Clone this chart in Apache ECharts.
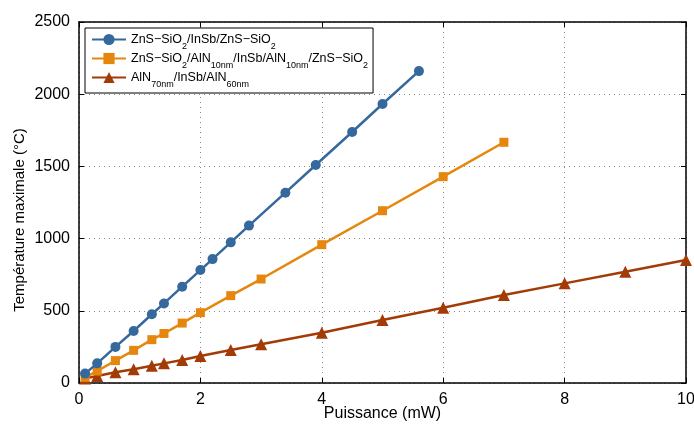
<!DOCTYPE html>
<html>
<head>
<meta charset="utf-8">
<script src="https://cdn.jsdelivr.net/npm/echarts@6/dist/echarts.min.js"></script>
<style>html,body{margin:0;padding:0;background:#fff;}#c{width:694px;height:425px;}</style>
</head>
<body>
<div id="c"></div>
<script>
// ---- data ----
var seriesNames = [
  'ZnS-SiO2/InSb/ZnS-SiO2',
  'ZnS-SiO2/AlN10nm/InSb/AlN10nm/ZnS-SiO2',
  'AlN70nm/InSb/AlN60nm'
];
var legendRich = [
  '{n|ZnS\u2212SiO}{s|2}{n|/InSb/ZnS\u2212SiO}{s|2}',
  '{n|ZnS\u2212SiO}{s|2}{n|/AlN}{s|10nm}{n|/InSb/AlN}{s|10nm}{n|/ZnS\u2212SiO}{s|2}',
  '{n|AlN}{s|70nm}{n|/InSb/AlN}{s|60nm}'
];
var blueX = [0.1, 0.3, 0.6, 0.9, 1.2, 1.4, 1.7, 2.0, 2.2, 2.5, 2.8, 3.4, 3.9, 4.5, 5.0, 5.6];
var blueY = [65, 136, 250, 360, 476, 551, 667, 782, 858, 974, 1090, 1318, 1510, 1738, 1932, 2160];
var orangeX = [0.1, 0.3, 0.6, 0.9, 1.2, 1.4, 1.7, 2.0, 2.5, 3.0, 4.0, 5.0, 6.0, 7.0];
var orangeY = [39, 83, 155, 226, 300, 343, 415, 487, 605, 720, 958, 1193, 1429, 1667];
var redX = [0.1, 0.3, 0.6, 0.9, 1.2, 1.4, 1.7, 2.0, 2.5, 3.0, 4.0, 5.0, 6.0, 7.0, 8.0, 9.0, 10.0];
var redY = [32, 48, 74, 95, 120, 136, 159, 187, 228, 268, 348, 436, 521, 609, 690, 771, 852];
var xTicks = {min: 0, max: 10, interval: 2};
var yTicks = {min: 0, max: 2500, interval: 500};
var xName = 'Puissance (mW)';
var yName = 'Température maximale (°C)';

function pairs(xs, ys) { return xs.map(function (x, i) { return [x, ys[i]]; }); }

var FONT = '"Liberation Sans", Arial, Helvetica, sans-serif';
var colors = ['#35689c', '#e5870e', '#a33b06'];
var symbols = ['circle', 'rect', 'triangle'];
var sizes = [10, 9, 12];
var datasets = [pairs(blueX, blueY), pairs(orangeX, orangeY), pairs(redX, redY)];

var chart = echarts.init(document.getElementById('c'), null, {renderer: 'canvas'});

var axisLineStyle = {color: '#000', width: 1.5};
var tickStyle = {show: true, inside: true, length: 5, lineStyle: {color: '#000', width: 1}};
var plain = function (v) { return String(v); };

var option = {
  backgroundColor: '#fff',
  animation: false,
  grid: {left: 79, right: 8, top: 22, bottom: 42, containLabel: false, outerBoundsMode: 'none'},
  legend: {
    data: seriesNames,
    orient: 'vertical',
    left: 85,
    top: 28,
    padding: [5, 5, 4, 6],
    itemGap: 1,
    itemWidth: 34,
    itemHeight: 14,
    backgroundColor: '#fff',
    borderColor: '#000',
    borderWidth: 1,
    borderRadius: 0,
    z: 10,
    formatter: function (name) { return legendRich[seriesNames.indexOf(name)]; },
    textStyle: {
      color: '#000',
      fontFamily: FONT,
      fontSize: 12.5,
      rich: {
        n: {fontFamily: FONT, fontSize: 12.5, color: '#000', lineHeight: 14},
        s: {fontFamily: FONT, fontSize: 9, color: '#000', lineHeight: 10, padding: [9, 0, -5, 0]}
      }
    }
  },
  xAxis: [{
    type: 'value',
    min: xTicks.min, max: xTicks.max, interval: xTicks.interval,
    name: xName,
    nameLocation: 'middle',
    nameGap: 23,
    nameMoveOverlap: false,
    nameTextStyle: {fontFamily: FONT, fontSize: 16, color: '#000'},
    axisLine: {show: true, onZero: false, lineStyle: axisLineStyle},
    axisTick: tickStyle,
    axisLabel: {fontFamily: FONT, fontSize: 16, color: '#000', margin: 9, formatter: plain},
    splitLine: {show: true, lineStyle: {color: '#888', type: [1, 4], width: 1}}
  }, {
    type: 'value', position: 'top',
    min: xTicks.min, max: xTicks.max, interval: xTicks.interval,
    axisLine: {show: true, onZero: false, lineStyle: axisLineStyle},
    axisTick: tickStyle,
    axisLabel: {show: false},
    splitLine: {show: false}
  }],
  yAxis: [{
    type: 'value',
    min: yTicks.min, max: yTicks.max, interval: yTicks.interval,
    name: yName,
    nameLocation: 'middle',
    nameGap: 52,
    nameMoveOverlap: false,
    nameTextStyle: {fontFamily: FONT, fontSize: 15, color: '#000', padding: [0, 35, 0, 0]},
    axisLine: {show: true, onZero: false, lineStyle: axisLineStyle},
    axisTick: tickStyle,
    axisLabel: {fontFamily: FONT, fontSize: 16, color: '#000', margin: 9, formatter: plain},
    splitLine: {show: true, lineStyle: {color: '#888', type: [1, 4], width: 1}}
  }, {
    type: 'value', position: 'right',
    min: yTicks.min, max: yTicks.max, interval: yTicks.interval,
    axisLine: {show: true, onZero: false, lineStyle: axisLineStyle},
    axisTick: tickStyle,
    axisLabel: {show: false},
    splitLine: {show: false}
  }],
  series: seriesNames.map(function (nm, i) {
    return {
      name: nm,
      type: 'line',
      data: datasets[i],
      symbol: symbols[i],
      symbolSize: sizes[i],
      showAllSymbol: true,
      clip: false,
      z: 3 + (2 - i),
      lineStyle: {color: colors[i], width: 2.5},
      itemStyle: {color: colors[i], borderWidth: 0}
    };
  })
};
chart.setOption(option);
</script>
</body>
</html>
